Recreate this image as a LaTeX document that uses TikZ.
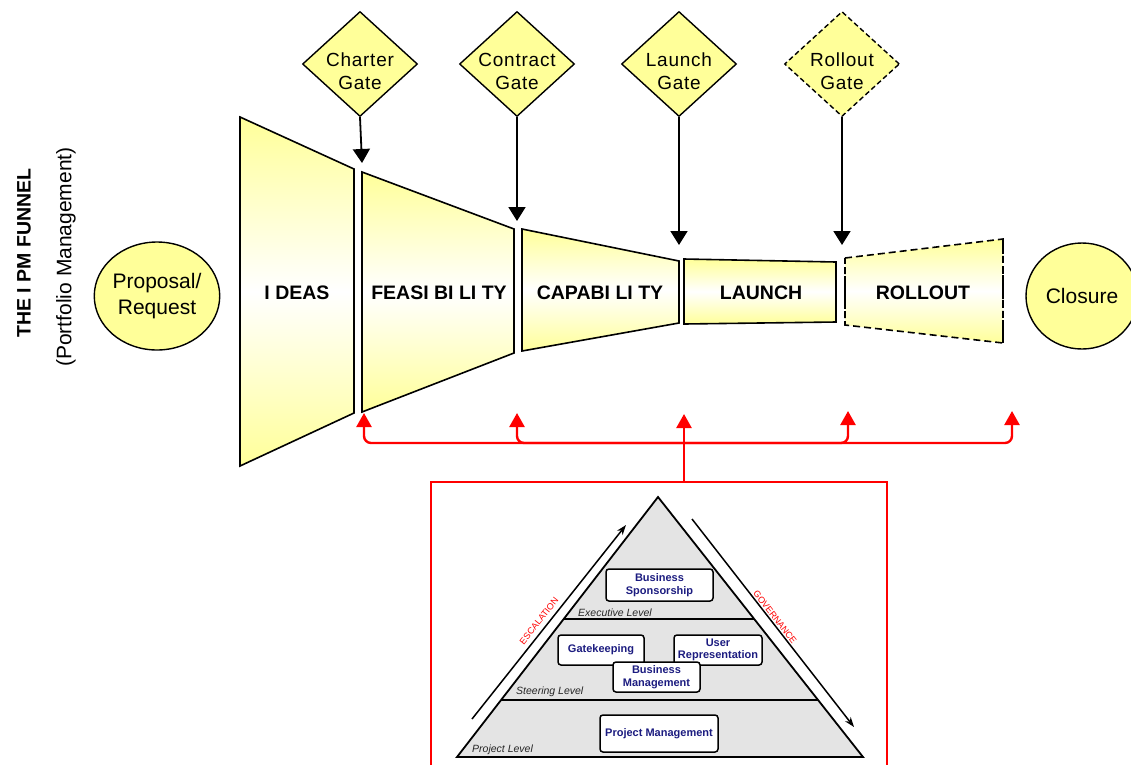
\documentclass[tikz,border=0pt]{standalone}
\usepackage{fontspec}
\setmainfont{Liberation Sans}
\newfontfamily\gatefont{Liberation Sans}[LetterSpace=4]
\usetikzlibrary{arrows.meta,shapes.geometric,calc}
\definecolor{funnelyellow}{HTML}{FFFF99}
\definecolor{navytext}{RGB}{28,28,128}
\definecolor{pyrgray}{HTML}{E4E4E4}
\definecolor{govred}{HTML}{FF0000}

\tikzset{
  stage/.style={draw=black, line width=1.6pt, line join=miter,
    top color=funnelyellow, bottom color=funnelyellow, middle color=white},
  stagetext/.style={font=\fontsize{19.5}{22}\selectfont\bfseries, inner sep=0pt},
  gate/.style={diamond, draw=black, line width=1.4pt, fill=funnelyellow,
    inner sep=0pt, minimum width=115pt, minimum height=105pt},
  gatetext/.style={font=\gatefont\fontsize{19}{23}\selectfont, align=center, inner sep=0pt},
  gatearrow/.style={line width=1.8pt, -{Triangle[width=17pt,length=14pt]}},
  endpoint/.style={ellipse, draw=black, line width=1.4pt, fill=funnelyellow,
    inner sep=0pt, font=\fontsize{21}{26}\selectfont, align=center},
  redarrow/.style={draw=govred, line width=2.4pt, rounded corners=7pt,
    -{Triangle[width=15pt,length=14pt]}},
  pyrbox/.style={draw=black, line width=1.5pt, fill=white, rounded corners=3pt,
    font=\fontsize{11}{12.5}\selectfont\bfseries, text=navytext,
    align=center, inner sep=0pt},
  levellabel/.style={font=\fontsize{10.5}{12}\selectfont\itshape, anchor=west,
    inner sep=0pt, text=black!85},
  flowarrow/.style={line width=1.5pt, -{Stealth[length=10pt,width=7pt]}},
  flowlabel/.style={font=\fontsize{9}{10}\selectfont, text=govred, inner sep=0pt}
}

\begin{document}
\begin{tikzpicture}[x=1pt,y=-1pt]
\useasboundingbox (0,0) rectangle (1131,764);

% Title
\node[rotate=90, font=\fontsize{19.5}{22}\selectfont\bfseries] (title) at (24,253) {THE I PM FUNNEL};
\node[rotate=90, font=\fontsize{21}{24}\selectfont] (subtitle) at (66,257) {(Portfolio Management)};

% Start and end
\node[endpoint, minimum width=116pt, minimum height=108pt] (proposal) at (157,296) {Proposal/\\Request};
\node[endpoint, minimum width=112pt, minimum height=106pt] (closure) at (1082,296) {Closure};

% Funnel stages
\path[stage] (240,117) -- (354,169) -- (354,413) -- (240,466) -- cycle;
\node[stagetext] (ideas) at (297,293) {I DEAS};

\path[stage] (362,172) -- (514,229) -- (514,353) -- (362,412) -- cycle;
\node[stagetext] (feas) at (439,293) {FEASI BI LI TY};

\path[stage] (522,229) -- (679,261) -- (679,323) -- (522,351) -- cycle;
\node[stagetext] (capa) at (600,293) {CAPABI LI TY};

\path[stage] (684,259) -- (836,262) -- (836,322) -- (684,324) -- cycle;
\node[stagetext] (launch) at (761,293) {LAUNCH};

\path[stage, dash pattern=on 7pt off 4pt] (845,258) -- (1003,239) -- (1003,343) -- (845,325) -- cycle;
\draw[line width=2.6pt, dash pattern=on 6pt off 3pt] (845,258) -- (845,325);
\draw[line width=2.6pt, dash pattern=on 6pt off 3pt] (1003,239) -- (1003,343);
\node[stagetext] (rollout) at (923,293) {ROLLOUT};

% Gates
\node[gate] (charter) at (360,64) {};
\node[gatetext] at ([yshift=-7pt]charter.center) {Charter\\Gate};
\node[gate] (contract) at (517,64) {};
\node[gatetext] at ([yshift=-7pt]contract.center) {Contract\\Gate};
\node[gate] (launchgate) at (679,64) {};
\node[gatetext] at ([yshift=-7pt]launchgate.center) {Launch\\Gate};
\node[gate, dash pattern=on 5pt off 3pt] (rolloutgate) at (842,64) {};
\node[gatetext] at ([yshift=-7pt]rolloutgate.center) {Rollout\\Gate};

\coordinate (t1) at (362,163);
\coordinate (t2) at (517,221);
\coordinate (t3) at (679,245);
\coordinate (t4) at (842,245);
\draw[gatearrow] (charter.south) -- (t1);
\draw[gatearrow] (contract.south) -- (t2);
\draw[gatearrow] (launchgate.south) -- (t3);
\draw[gatearrow] (rolloutgate.south) -- (t4);

% Governance frame and feedback arrows
\node[draw=govred, line width=1.5pt, anchor=north west, minimum width=456pt,
      minimum height=320pt, inner sep=0pt] (govbox) at (430,481) {};
\coordinate (hub) at (684,443);
\coordinate (r1) at (364,413);
\coordinate (r2) at (517,413);
\coordinate (r3) at (684,414);
\coordinate (r4) at (848,411);
\coordinate (r5) at (1012,411);
\draw[redarrow] (hub) -| (r1);
\draw[redarrow] (hub) -| (r2);
\draw[redarrow] (hub) -| (r4);
\draw[redarrow] (hub) -| (r5);
\draw[redarrow] (govbox.north -| r3) -- (r3);

% Governance pyramid
\coordinate (apex) at (658,497);
\coordinate (bl) at (457,757);
\coordinate (br) at (863,757);
\path[draw=black, line width=1.8pt, fill=pyrgray, line join=miter] (apex) -- (br) -- (bl) -- cycle;
\draw[line width=1.8pt] ($(apex)!0.469!(bl)$) -- ($(apex)!0.469!(br)$);
\draw[line width=1.8pt] ($(apex)!0.781!(bl)$) -- ($(apex)!0.781!(br)$);

\node[levellabel] (exec) at (578,613) {Executive Level};
\node[levellabel] (steer) at (516,692) {Steering Level};
\node[levellabel] (proj) at (472,750) {Project Level};

\node[pyrbox, minimum width=107pt, minimum height=32pt] (spons) at (659.5,585) {Business\\Sponsorship};
\node[pyrbox, minimum width=86pt, minimum height=30pt] (gatekeep) at (601,650) {Gatekeeping};
\node[pyrbox, minimum width=88pt, minimum height=30pt] (userrep) at (718,650) {User\\Representation};
\node[pyrbox, minimum width=87pt, minimum height=30pt] (busman) at (656.5,677) {Business\\Management};
\node[pyrbox, minimum width=118pt, minimum height=37pt] (projman) at (659,733.5) {Project Management};

% Escalation and governance flows
\coordinate (esc0) at (472,719);
\coordinate (esc1) at (626,525);
\coordinate (gov0) at (692,519);
\coordinate (gov1) at (854,727);
\draw[flowarrow] (esc0) -- (esc1);
\draw[flowarrow] (gov0) -- (gov1);
\node[flowlabel, rotate=51.6] (esclabel) at (539,621) {ESCALATION};
\node[flowlabel, rotate=-52] (govlabel) at (775,617) {GOVERNANCE};

\end{tikzpicture}
\end{document}
